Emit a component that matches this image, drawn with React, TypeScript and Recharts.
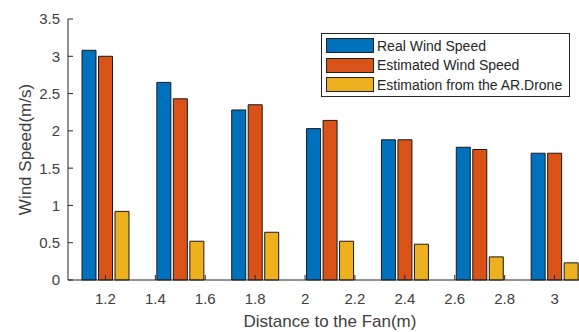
import React from 'react';
import { BarChart, Bar, XAxis, YAxis, Legend, Label } from 'recharts';

const distances = [1.2, 1.5, 1.8, 2.1, 2.4, 2.7, 3.0];
const realWind = [3.08, 2.65, 2.28, 2.03, 1.88, 1.78, 1.70];
const estimatedWind = [3.0, 2.43, 2.35, 2.14, 1.88, 1.75, 1.70];
const droneEstimate = [0.92, 0.52, 0.64, 0.52, 0.48, 0.31, 0.23];

const xTicks = [1.2, 1.4, 1.6, 1.8, 2, 2.2, 2.4, 2.6, 2.8, 3];
const yTicks = [0, 0.5, 1, 1.5, 2, 2.5, 3, 3.5];
const seriesKeys = ['real', 'estimated', 'drone'];
const seriesNames = ['Real Wind Speed', 'Estimated Wind Speed', 'Estimation from the AR.Drone'];
const seriesColors = ['#0072BD', '#D95319', '#EDB120'];
const xLabel = 'Distance to the Fan(m)';
const yLabel = 'Wind Speed(m/s)';

const data = distances.map((d, i) => ({
  distance: d,
  real: realWind[i],
  estimated: estimatedWind[i],
  drone: droneEstimate[i],
}));

const FONT = '"Liberation Sans", Arial, Helvetica, sans-serif';
const TEXT = '#404040';
const AXIS = '#262626';

const fmt = (v: number) => String(Math.round(v * 10) / 10);

const BottomTick = (props: any) => {
  const { x, y, payload } = props;
  return (
    <g>
      <line x1={x} y1={y} x2={x} y2={y - 5} stroke={AXIS} strokeWidth={1} />
      <text x={x} y={y + 24} textAnchor="middle" fill={TEXT} fontSize={15} fontFamily={FONT}>
        {fmt(payload.value)}
      </text>
    </g>
  );
};

const TopTick = (props: any) => {
  const { x, y } = props;
  return <line x1={x} y1={y} x2={x} y2={y + 5} stroke={AXIS} strokeWidth={1} />;
};

const LeftTick = (props: any) => {
  const { x, y, payload } = props;
  return (
    <g>
      <line x1={x} y1={y} x2={x + 5} y2={y} stroke={AXIS} strokeWidth={1} />
      <text x={x - 8} y={y} dy="0.36em" textAnchor="end" fill={TEXT} fontSize={15} fontFamily={FONT}>
        {fmt(payload.value)}
      </text>
    </g>
  );
};

const LegendBox = () => (
  <div
    style={{
      width: 249,
      boxSizing: 'border-box',
      border: '1px solid #262626',
      background: '#fff',
      padding: '2px 4px 1px 4px',
      fontFamily: FONT,
      fontSize: 14,
      color: '#262626',
    }}
  >
    {seriesNames.map((n, i) => (
      <div key={n} style={{ display: 'flex', alignItems: 'center', height: 19.5, whiteSpace: 'nowrap' }}>
        <span
          style={{
            display: 'inline-block',
            width: 48,
            height: 15,
            boxSizing: 'border-box',
            background: seriesColors[i],
            border: '1px solid #222',
            marginRight: 3,
          }}
        />
        <span>{n}</span>
      </div>
    ))}
  </div>
);

export default function App() {
  return (
    <div
      style={{
        position: 'absolute',
        left: 0,
        top: 0,
        width: 579,
        height: 332,
        overflow: 'hidden',
        background: '#fff',
      }}
    >
      <BarChart
        width={620}
        height={332}
        data={data}
        margin={{ top: 19, right: 28, bottom: 0, left: 0 }}
        barGap={2.5}
      >
        <XAxis
          dataKey="distance"
          type="number"
          domain={[1.05, 3.15]}
          ticks={xTicks}
          interval={0}
          allowDataOverflow
          height={52}
          axisLine={{ stroke: AXIS }}
          tickLine={false}
          tickSize={0}
          tickMargin={0}
          tick={<BottomTick />}
        >
          <Label
            content={(p: any) => {
              const vb = p.viewBox || {};
              return (
                <text
                  x={vb.x + vb.width / 2}
                  y={vb.y + vb.height - 5}
                  textAnchor="middle"
                  fill={TEXT}
                  fontSize={17}
                  fontFamily={FONT}
                >
                  {xLabel}
                </text>
              );
            }}
          />
        </XAxis>
        <XAxis
          xAxisId="top"
          orientation="top"
          dataKey="distance"
          type="number"
          domain={[1.05, 3.15]}
          ticks={xTicks}
          interval={0}
          allowDataOverflow
          height={0}
          axisLine={{ stroke: AXIS }}
          tickLine={false}
          tickSize={0}
          tickMargin={0}
          tick={<TopTick />}
        />
        <YAxis
          type="number"
          domain={[0, 3.5]}
          ticks={yTicks}
          interval={0}
          width={68}
          axisLine={{ stroke: AXIS }}
          tickLine={false}
          tickSize={0}
          tickMargin={0}
          tick={<LeftTick />}
        >
          <Label
            content={(p: any) => {
              const vb = p.viewBox || {};
              const cx = vb.x + 31;
              const cy = vb.y + vb.height / 2;
              return (
                <text
                  x={cx}
                  y={cy}
                  transform={`rotate(-90 ${cx} ${cy})`}
                  textAnchor="middle"
                  fill={TEXT}
                  fontSize={17}
                  fontFamily={FONT}
                >
                  {yLabel}
                </text>
              );
            }}
          />
        </YAxis>
        <Legend
          layout="vertical"
          align="center"
          verticalAlign="middle"
          content={<LegendBox />}
          wrapperStyle={{ position: 'absolute', left: 321, top: 33, width: 249, height: 64 }}
        />
        {seriesKeys.map((k, i) => (
          <Bar
            key={k}
            dataKey={k}
            name={seriesNames[i]}
            fill={seriesColors[i]}
            stroke="#1a1a1a"
            strokeWidth={1}
            barSize={14}
            isAnimationActive={false}
          />
        ))}
      </BarChart>
    </div>
  );
}
